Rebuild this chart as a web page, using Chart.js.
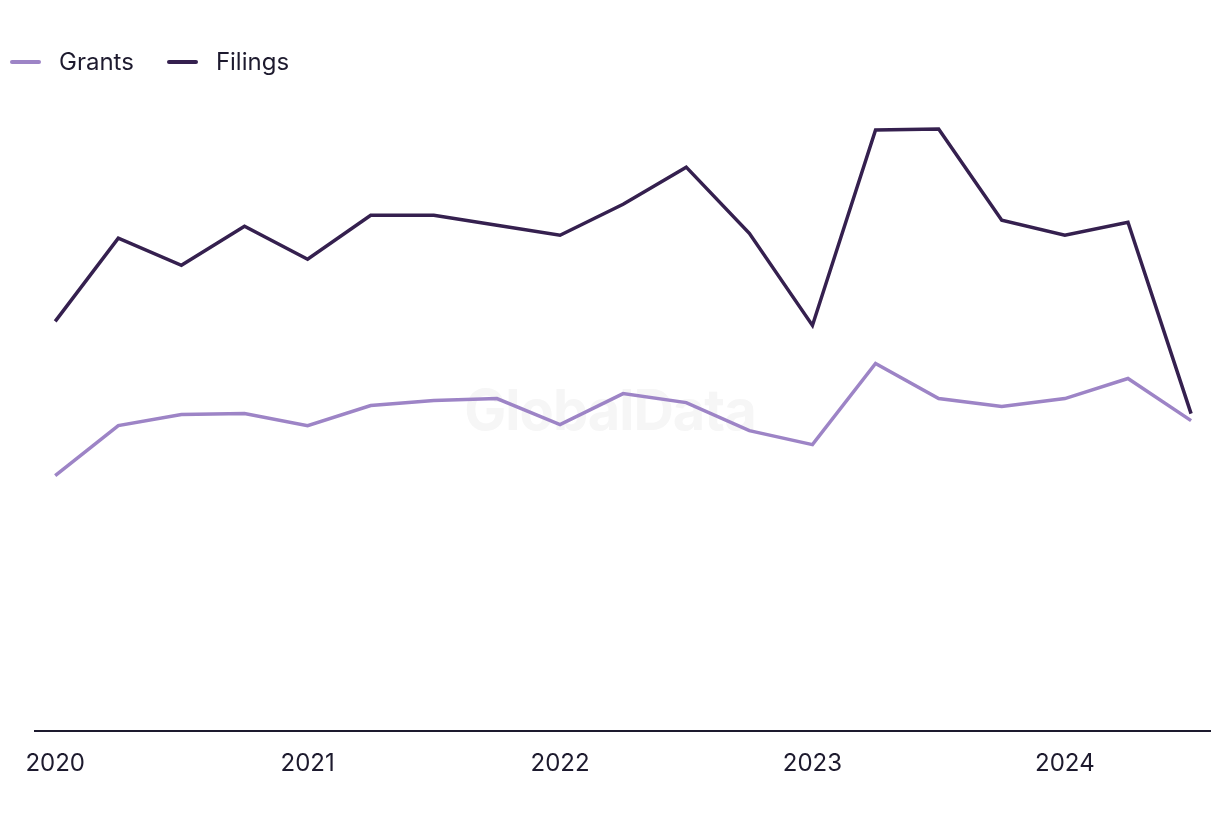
<!DOCTYPE html>
<html>
<head>
<meta charset="utf-8">
<script src="https://cdn.jsdelivr.net/npm/chart.js@4/dist/chart.umd.min.js"></script>
<style>
  html, body { margin: 0; padding: 0; background: #fff; }
  #wrap { position: relative; width: 1220px; height: 820px; font-family: Inter, "Noto Sans", sans-serif; }
  #chart { position: absolute; left: 0; top: 0; z-index: 1; }
  #mark { position: absolute; left: 0; width: 1220px; top: 376px; text-align: center;
          font-size: 56px; font-weight: 700; color: #f6f6f6; letter-spacing: -1px; z-index: 0; }
  #legend { position: absolute; left: 10px; top: 47px; z-index: 2; display: flex; font-size: 24px; color: #1d1a2e; }
  .item { display: flex; align-items: center; margin-right: 33px; }
  .swatch { width: 31px; height: 4px; border-radius: 2px; margin-right: 18px; }
</style>
</head>
<body>
<div id="wrap">
  <div id="mark">GlobalData</div>
  <canvas id="chart" width="1220" height="820"></canvas>
  <div id="legend"></div>
</div>
<script>
// quarterly, 2020 Q1 .. 2024 Q3
var quarters = ["2020 Q1","2020 Q2","2020 Q3","2020 Q4","2021 Q1","2021 Q2","2021 Q3","2021 Q4",
                "2022 Q1","2022 Q2","2022 Q3","2022 Q4","2023 Q1","2023 Q2","2023 Q3","2023 Q4",
                "2024 Q1","2024 Q2","2024 Q3"];
var grants  = [255, 305, 316, 317, 305, 325, 330, 332, 306, 337, 328, 300, 286, 367, 332, 324, 332, 352, 310];
var filings = [409, 492, 465, 504, 471, 515, 515, 505, 495, 526, 563, 497, 405, 600, 601, 510, 495, 508, 317];
var yearTicks = {0: "2020", 4: "2021", 8: "2022", 12: "2023", 16: "2024"};

var colors = { grants: "#9d84c6", filings: "#35204f" };

function pts(arr) {
  return arr.map(function (v, i) { return { x: i, y: v }; });
}

var series = [
  { label: "Grants", data: pts(grants), color: colors.grants },
  { label: "Filings", data: pts(filings), color: colors.filings }
];

var legend = document.getElementById("legend");
series.forEach(function (s) {
  var it = document.createElement("div");
  it.className = "item";
  it.innerHTML = '<span class="swatch" style="background:' + s.color + '"></span><span>' + s.label + "</span>";
  legend.appendChild(it);
});

new Chart(document.getElementById("chart").getContext("2d"), {
  type: "line",
  data: {
    datasets: series.map(function (s) {
      return {
        label: s.label,
        data: s.data,
        borderColor: s.color,
        backgroundColor: s.color,
        borderWidth: 3.5,
        pointRadius: 0,
        tension: 0,
        fill: false
      };
    })
  },
  options: {
    responsive: false,
    animation: false,
    layout: { padding: { left: 35, right: 10, top: 100, bottom: 24 } },
    plugins: { legend: { display: false }, tooltip: { enabled: false } },
    scales: {
      x: {
        type: "linear",
        min: -0.32,
        max: 18.3,
        grid: { display: false, drawTicks: false },
        border: { display: true, color: "#1d1a2e", width: 2 },
        afterBuildTicks: function (axis) {
          axis.ticks = Object.keys(yearTicks).map(function (k) { return { value: +k }; });
        },
        ticks: {
          padding: 18,
          maxRotation: 0,
          autoSkip: false,
          color: "#1d1a2e",
          font: { family: "Inter, 'Noto Sans', sans-serif", size: 24 },
          callback: function (v) { return yearTicks[v] || ""; }
        }
      },
      y: {
        display: false,
        min: 0,
        max: 630
      }
    }
  }
});
</script>
</body>
</html>
